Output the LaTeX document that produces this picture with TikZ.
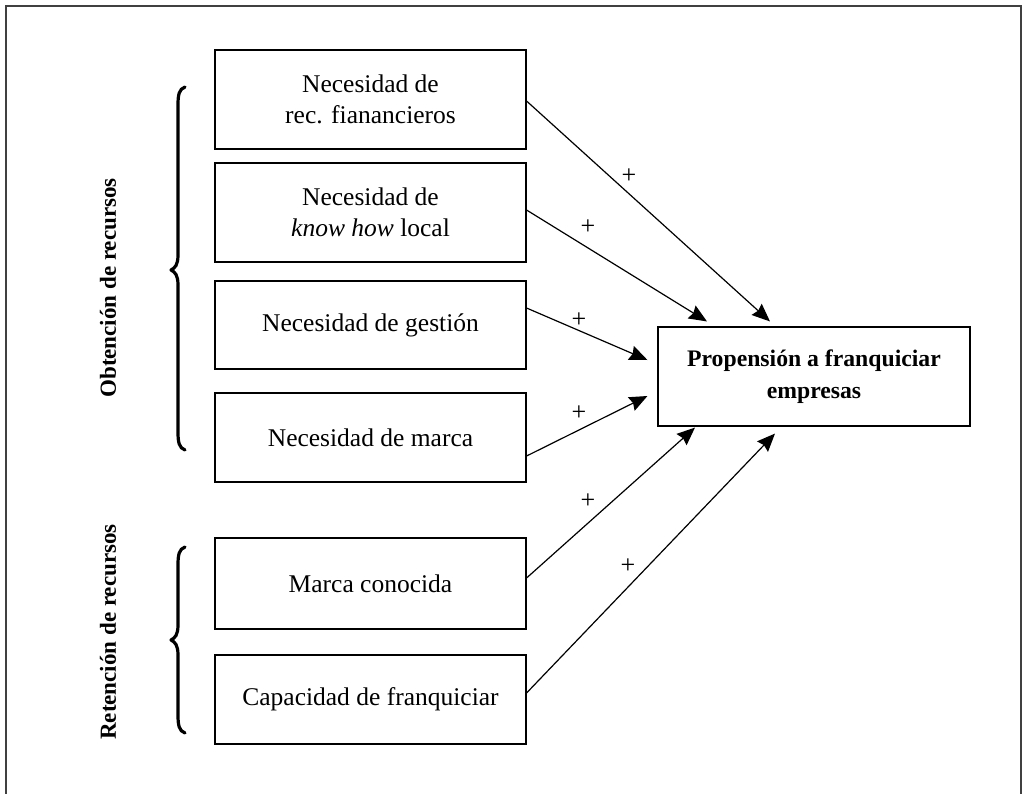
\documentclass[tikz,border=0pt]{standalone}
\usepackage{fontspec}
\setmainfont{Liberation Serif}
\usetikzlibrary{arrows.meta}
\begin{document}
\begin{tikzpicture}[x=1pt,y=-1pt,
  box/.style={draw, line width=1.1pt, minimum width=311pt, inner sep=0pt, align=center,
    font=\fontsize{25.5}{31}\selectfont},
  mainbox/.style={draw, line width=1.1pt, minimum width=312pt, minimum height=99pt, inner sep=0pt, align=center,
    font=\fontsize{23.7}{32}\selectfont\bfseries},
  grouplabel/.style={rotate=90, font=\fontsize{23}{28}\selectfont\bfseries},
  brace/.style={line width=3.2pt, line cap=round, line join=round},
  conn/.style={line width=1.2pt, -{Stealth[length=18pt,width=15pt,inset=2pt]}},
  plus/.style={font=\fontsize{26}{28}\selectfont, inner sep=0pt},
  frame/.style={line width=1.5pt, draw=black!75}]
\useasboundingbox (0,0) rectangle (1023,793);
\draw[frame] (6,810) -- (6,6) -- (1021,6) -- (1021,810);

\node[box, minimum height=99pt] (b1) at (370.5,99.5) {Necesidad de\\rec. fianancieros};
\node[box, minimum height=99pt] (b2) at (370.5,212.5) {Necesidad de\\\textit{know how} local};
\node[box, minimum height=88pt] (b3) at (370.5,325) {Necesidad de gestión};
\node[box, minimum height=89pt] (b4) at (370.5,437.5) {Necesidad de marca};
\node[box, minimum height=91pt] (b5) at (370.5,583.5) {Marca conocida};
\node[box, minimum height=89pt] (b6) at (370.5,699.5) {Capacidad de franquiciar};

\node[mainbox] (m) at (814,376.5) {Propensión a franquiciar\\empresas};

\coordinate (t1) at ([xshift=-44pt,yshift=5pt]m.north);
\coordinate (t2) at ([xshift=-107pt,yshift=5pt]m.north);
\coordinate (t3) at ([xshift=-10pt,yshift=16.5pt]m.west);
\coordinate (t4) at ([xshift=-10pt,yshift=-19.5pt]m.west);
\coordinate (t5) at ([xshift=-119pt,yshift=-1pt]m.south);
\coordinate (t6) at ([xshift=-39pt,yshift=-7pt]m.south);

\draw[conn] ([yshift=-1.5pt]b1.east) -- (t1);
\draw[conn] ([yshift=2.5pt]b2.east) -- (t2);
\draw[conn] ([yshift=17pt]b3.east) -- (t3);
\draw[conn] ([yshift=-18.5pt]b4.east) -- (t4);
\draw[conn] ([yshift=5.5pt]b5.east) -- (t5);
\draw[conn] ([yshift=6.5pt]b6.east) -- (t6);

\node[plus] (p1) at (629,176) {+};
\node[plus] (p2) at (588,227) {+};
\node[plus] (p3) at (579,320) {+};
\node[plus] (p4) at (579,413) {+};
\node[plus] (p5) at (588,501) {+};
\node[plus] (p6) at (628,566) {+};

\draw[brace] (185,87) .. controls (179,89) and (178,95) .. (178,105) -- (178,255)
  .. controls (178,265) and (175,268) .. (171,270)
  .. controls (175,272) and (178,275) .. (178,285) -- (178,432)
  .. controls (178,442) and (179,448) .. (185,450);
\draw[brace] (185,547) .. controls (179,549) and (178,555) .. (178,565) -- (178,625)
  .. controls (178,635) and (175,638) .. (171,640)
  .. controls (175,642) and (178,645) .. (178,655) -- (178,715)
  .. controls (178,725) and (179,731) .. (185,733);

\node[grouplabel] (g1) at (108,288) {Obtención de recursos};
\node[grouplabel] (g2) at (108,632) {Retención de recursos};
\end{tikzpicture}
\end{document}
